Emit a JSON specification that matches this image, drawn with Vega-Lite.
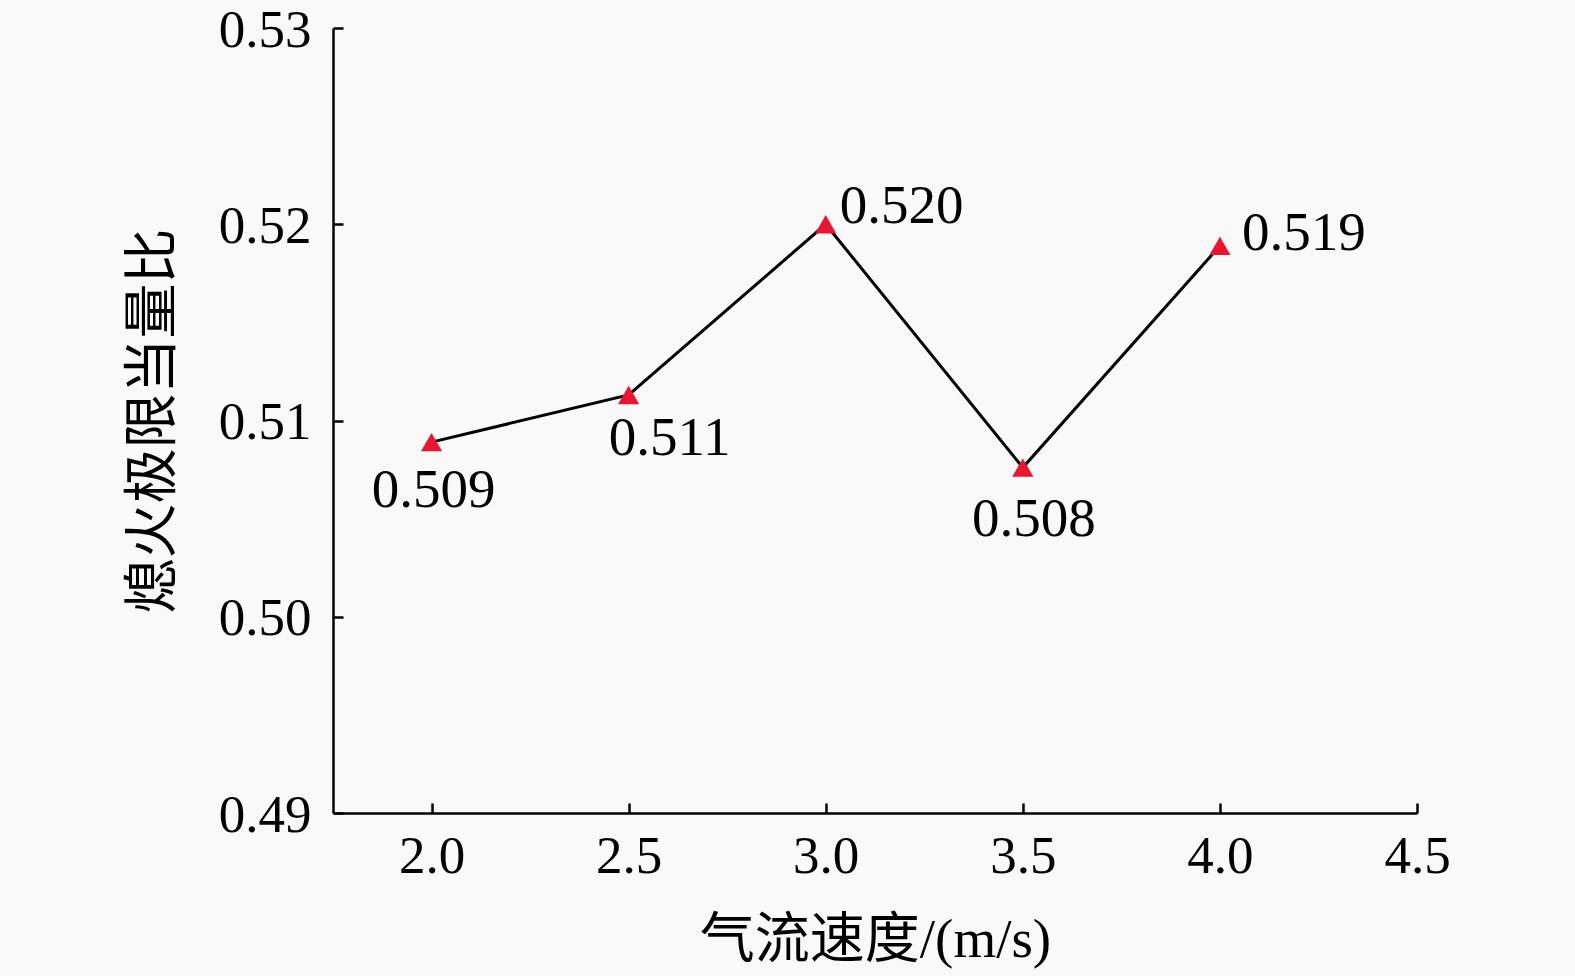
{
  "$schema": "https://vega.github.io/schema/vega-lite/v6.json",
  "autosize": "none",
  "width": 1084,
  "height": 785,
  "padding": {"left": 333, "top": 28, "right": 158, "bottom": 163},
  "background": "#f9f9f9",
  "config": {
    "view": {"stroke": null},
    "font": "Liberation Serif",
    "axis": {
      "domainColor": "#000",
      "domainWidth": 2.5,
      "tickColor": "#000",
      "tickWidth": 2.5,
      "tickSize": -10,
      "grid": false,
      "labelFont": "Liberation Serif",
      "labelFontSize": 53,
      "labelColor": "#000",
      "titleFont": "Liberation Serif, Noto Sans CJK SC",
      "titleFontSize": 55,
      "titleFontWeight": "normal",
      "titleColor": "#000"
    }
  },
  "data": {
    "values": [
      {"v": 2.0, "r": 0.5089, "label": "0.509"},
      {"v": 2.5, "r": 0.5113, "label": "0.511"},
      {"v": 3.0, "r": 0.5200, "label": "0.520"},
      {"v": 3.5, "r": 0.5076, "label": "0.508"},
      {"v": 4.0, "r": 0.5189, "label": "0.519"}
    ]
  },
  "encoding": {
    "x": {
      "field": "v",
      "type": "quantitative",
      "scale": {"domain": [1.75, 4.5], "nice": false, "zero": false},
      "axis": {
        "values": [2.0, 2.5, 3.0, 3.5, 4.0, 4.5],
        "format": ".1f",
        "labelPadding": 27,
        "labelFlush": false,
        "title": "气流速度/(m/s)",
        "titlePadding": 30
      }
    },
    "y": {
      "field": "r",
      "type": "quantitative",
      "scale": {"domain": [0.49, 0.53], "nice": false, "zero": false},
      "axis": {
        "values": [0.49, 0.50, 0.51, 0.52, 0.53],
        "format": ".2f",
        "labelPadding": 32,
        "labelFlush": false,
        "labelBaseline": "alphabetic",
        "labelOffset": 18,
        "title": "熄火极限当量比",
        "titlePadding": 37
      }
    }
  },
  "layer": [
    {"mark": {"type": "line", "color": "#000", "strokeWidth": 3}},
    {"mark": {"type": "point", "shape": "triangle-up", "filled": true, "size": 450, "color": "#ea1530", "opacity": 1}},
    {
      "transform": [{"filter": "datum.v == 2.0"}],
      "mark": {"type": "text", "fontSize": 55, "color": "#000", "align": "center", "baseline": "middle", "dx": 2, "dy": 48},
      "encoding": {"text": {"field": "label"}}
    },
    {
      "transform": [{"filter": "datum.v == 2.5"}],
      "mark": {"type": "text", "fontSize": 55, "color": "#000", "align": "center", "baseline": "middle", "dx": 41, "dy": 43},
      "encoding": {"text": {"field": "label"}}
    },
    {
      "transform": [{"filter": "datum.v == 3.0"}],
      "mark": {"type": "text", "fontSize": 55, "color": "#000", "align": "left", "baseline": "middle", "dx": 14, "dy": -18},
      "encoding": {"text": {"field": "label"}}
    },
    {
      "transform": [{"filter": "datum.v == 3.5"}],
      "mark": {"type": "text", "fontSize": 55, "color": "#000", "align": "center", "baseline": "middle", "dx": 11, "dy": 51},
      "encoding": {"text": {"field": "label"}}
    },
    {
      "transform": [{"filter": "datum.v == 4.0"}],
      "mark": {"type": "text", "fontSize": 55, "color": "#000", "align": "left", "baseline": "middle", "dx": 22, "dy": -13},
      "encoding": {"text": {"field": "label"}}
    }
  ]
}
